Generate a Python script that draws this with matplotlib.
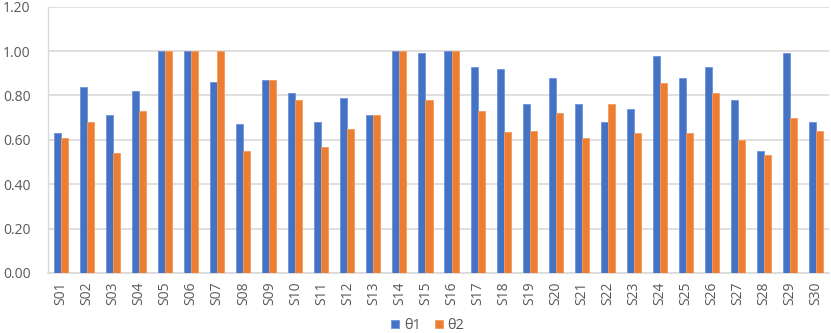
import numpy as np
import matplotlib
matplotlib.use("Agg")
import matplotlib.pyplot as plt

# 피험자 라벨과 두 계열 값
subjects = [f"S{i:02d}" for i in range(1, 31)]
theta1 = [0.63, 0.84, 0.71, 0.82, 1.00, 1.00, 0.86, 0.67, 0.87, 0.81,
          0.68, 0.79, 0.71, 1.00, 0.99, 1.00, 0.93, 0.92, 0.76, 0.88,
          0.76, 0.68, 0.74, 0.98, 0.88, 0.93, 0.78, 0.55, 0.99, 0.68]
theta2 = [0.61, 0.68, 0.54, 0.73, 1.00, 1.00, 1.00, 0.55, 0.87, 0.78,
          0.57, 0.65, 0.71, 1.00, 0.78, 1.00, 0.73, 0.635, 0.64, 0.72,
          0.61, 0.76, 0.63, 0.855, 0.63, 0.81, 0.60, 0.53, 0.70, 0.64]
series_names = ["θ1", "θ2"]
yticks = [0.0, 0.2, 0.4, 0.6, 0.8, 1.0, 1.2]

BLUE = "#4472C4"
ORANGE = "#ED7D31"
TXT = "#595959"
GRID = "#D9D9D9"

plt.rcParams["font.family"] = ["Open Sans", "DejaVu Sans"]

fig = plt.figure(figsize=(8.31, 3.33), dpi=100)
ax = fig.add_axes([48 / 831, 60 / 333, 781 / 831, 266.3 / 333])

x = np.arange(len(subjects))
w = 0.27
ax.bar(x - w / 2, theta1, width=w, color=BLUE, edgecolor="#6F93D6", linewidth=0.6,
       label=series_names[0], zorder=3)
ax.bar(x + w / 2, theta2, width=w, color=ORANGE, edgecolor="#F29A60", linewidth=0.6,
       label=series_names[1], zorder=3)

ax.set_xlim(-0.5, len(subjects) - 0.5)
ax.set_ylim(0, 1.2)
ax.set_yticks(yticks)
ax.set_yticklabels([f"{v:.2f}" for v in yticks])
ax.set_xticks(x)
ax.set_xticklabels(subjects, rotation=90)
ax.tick_params(axis="both", length=0, colors=TXT, labelsize=10)
ax.tick_params(axis="y", pad=12.5)
ax.tick_params(axis="x", pad=6)

ax.yaxis.grid(True, color=GRID, linewidth=1.2, zorder=0)
ax.set_axisbelow(True)
for side in ["top", "right"]:
    ax.spines[side].set_visible(False)
ax.spines["left"].set_color(GRID)
ax.spines["bottom"].set_color(GRID)
ax.spines["left"].set_linewidth(1.0)
ax.spines["bottom"].set_linewidth(1.2)

fig.legend(loc="lower center", bbox_to_anchor=(0.515, -0.04), ncol=2, frameon=False,
           handlelength=0.55, handleheight=0.55, handletextpad=0.3, columnspacing=1.0,
           fontsize=10.5, labelcolor=TXT)

fig.savefig("out.png", dpi=100)
